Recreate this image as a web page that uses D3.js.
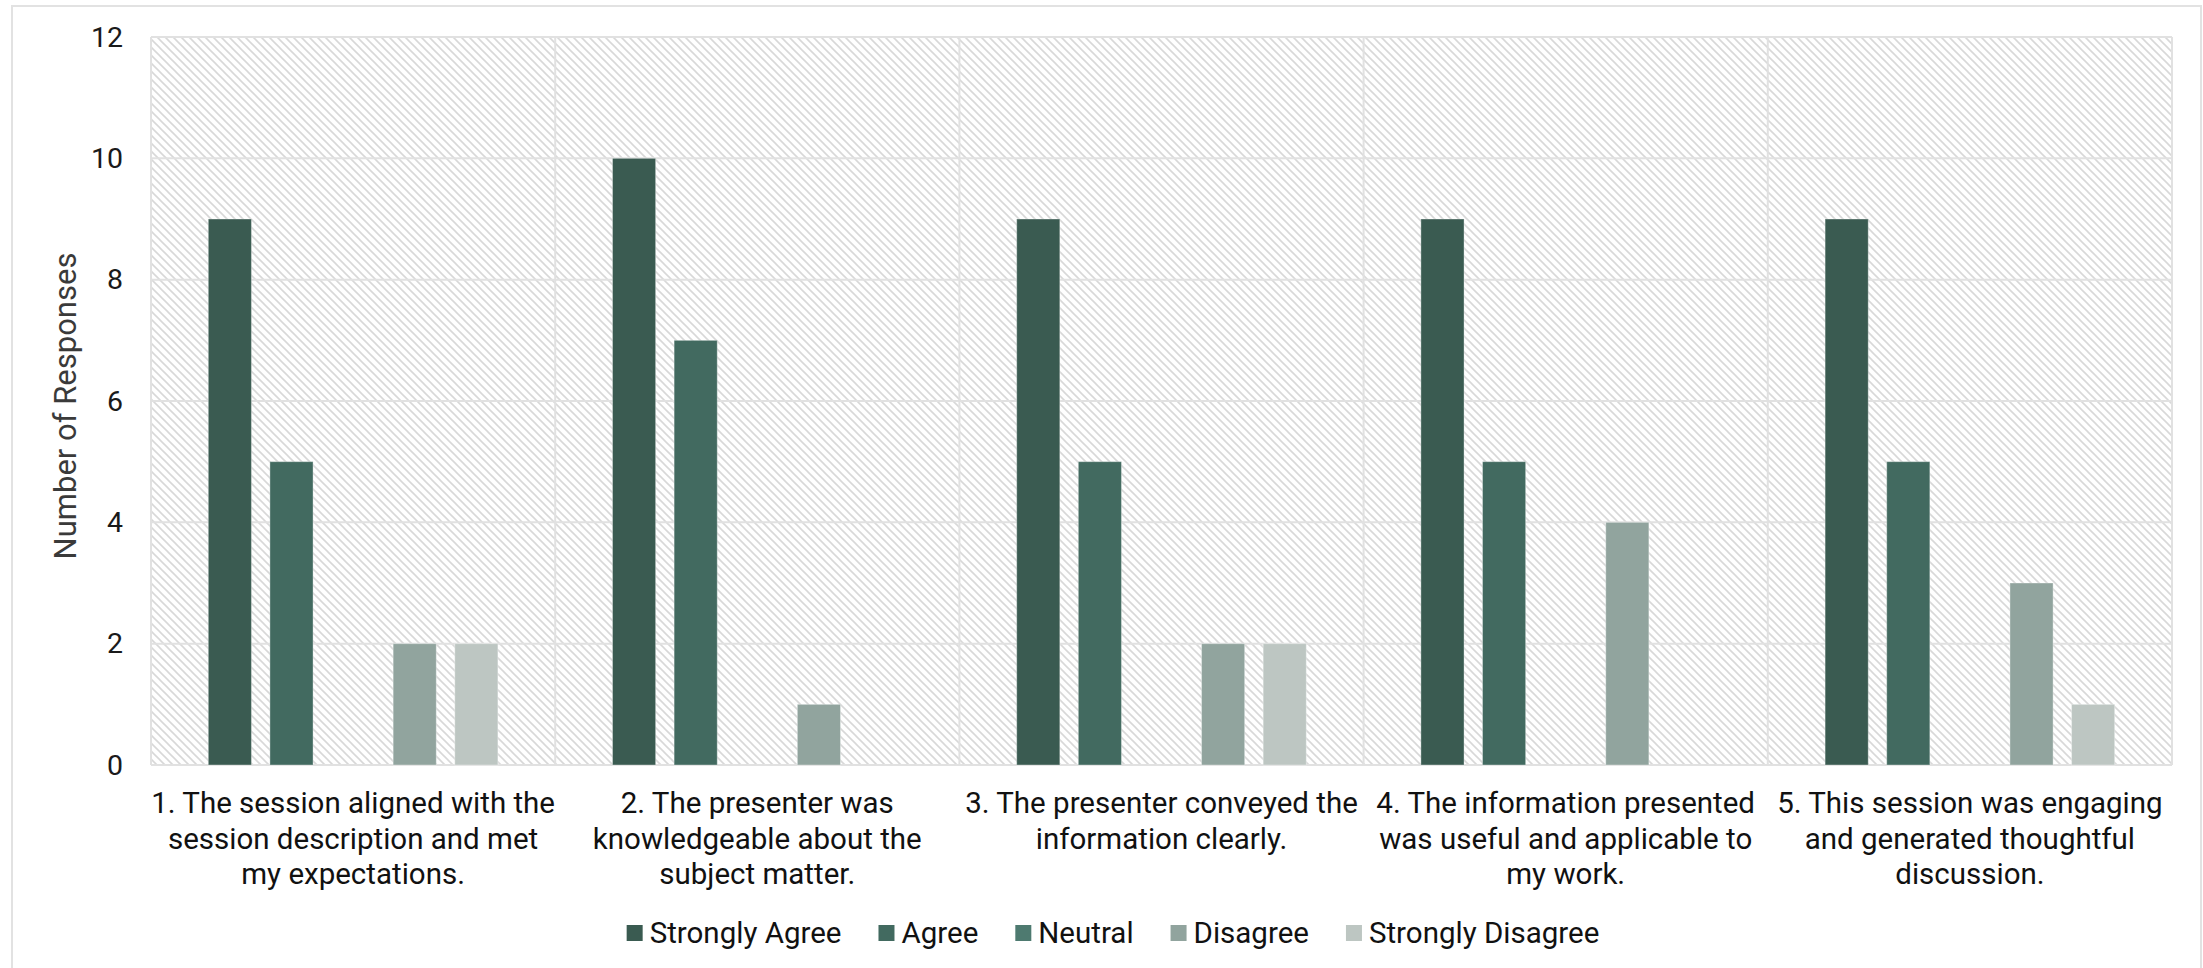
<!DOCTYPE html>
<html>
<head>
<meta charset="utf-8">
<script src="https://cdn.jsdelivr.net/npm/d3@7"></script>
<style>
  html, body { margin: 0; padding: 0; background: #ffffff; }
  svg { display: block; font-family: Roboto, "Noto Sans", sans-serif; }
</style>
</head>
<body>
<svg id="chart" width="2203" height="968"></svg>
<script>
// Survey questions (x categories); "\n" marks the label line breaks
const questions = [
  "1. The session aligned with the\nsession description and met\nmy expectations.",
  "2. The presenter was\nknowledgeable about the\nsubject matter.",
  "3. The presenter conveyed the\ninformation clearly.",
  "4. The information presented\nwas useful and applicable to\nmy work.",
  "5. This session was engaging\nand generated thoughtful\ndiscussion."
];

// Response options (series)
const responses = ["Strongly Agree", "Agree", "Neutral", "Disagree", "Strongly Disagree"];
const responseColors = ["#3a5b51", "#426a60", "#4e7a70", "#91a49e", "#bdc6c2"];

// Counts per question, one array per response option
const stronglyAgree    = [9, 10, 9, 9, 9];
const agree            = [5, 7, 5, 5, 5];
const neutral          = [0, 0, 0, 0, 0];
const disagree         = [2, 1, 2, 4, 3];
const stronglyDisagree = [2, 0, 2, 0, 1];
const seriesValues = [stronglyAgree, agree, neutral, disagree, stronglyDisagree];

const yTicks = [0, 2, 4, 6, 8, 10, 12];
const yTitle = "Number of Responses";

const svg = d3.select("#chart");
const plot = { left: 151, right: 2172, top: 37, bottom: 765 };

// Outer frame
svg.append("rect")
  .attr("x", 12).attr("y", 6)
  .attr("width", 2189).attr("height", 1000)
  .attr("fill", "#ffffff")
  .attr("stroke", "#e2e2e2").attr("stroke-width", 2);

// Diagonal hatch for the plot background
const defs = svg.append("defs");
const pat = defs.append("pattern")
  .attr("id", "hatch")
  .attr("patternUnits", "userSpaceOnUse")
  .attr("width", 8).attr("height", 8);
pat.append("rect").attr("width", 8).attr("height", 8).attr("fill", "#ffffff");
pat.append("path")
  .attr("d", "M0,0 L8,8 M-2,6 L2,10 M6,-2 L10,2")
  .attr("stroke", "#d8d8d8").attr("stroke-width", 1.6);

const x0 = d3.scaleBand()
  .domain(d3.range(questions.length))
  .range([plot.left, plot.right])
  .padding(0);

const x1 = d3.scaleBand()
  .domain(d3.range(responses.length))
  .range([0, x0.bandwidth()])
  .paddingInner(0.3)
  .paddingOuter(0.93);

const y = d3.scaleLinear()
  .domain([0, 12])
  .range([plot.bottom, plot.top]);

// Plot background
svg.append("rect")
  .attr("x", plot.left).attr("y", plot.top)
  .attr("width", plot.right - plot.left)
  .attr("height", plot.bottom - plot.top)
  .attr("fill", "url(#hatch)");

// Horizontal gridlines
svg.append("g")
  .selectAll("line")
  .data(yTicks)
  .join("line")
  .attr("x1", plot.left).attr("x2", plot.right)
  .attr("y1", d => y(d)).attr("y2", d => y(d))
  .attr("stroke", "#e1e1e1").attr("stroke-width", 2);

// Vertical separators between questions
svg.append("g")
  .selectAll("line")
  .data(d3.range(questions.length + 1))
  .join("line")
  .attr("x1", d => d < questions.length ? x0(d) : plot.right)
  .attr("x2", d => d < questions.length ? x0(d) : plot.right)
  .attr("y1", plot.top).attr("y2", plot.bottom)
  .attr("stroke", "#e1e1e1").attr("stroke-width", 2);

// Bars
const groups = svg.append("g")
  .selectAll("g")
  .data(questions.map((q, i) => i))
  .join("g")
  .attr("transform", i => `translate(${x0(i)},0)`);

groups.selectAll("rect")
  .data(i => seriesValues.map((vals, s) => ({ s, v: vals[i] })).filter(d => d.v > 0))
  .join("rect")
  .attr("x", d => x1(d.s))
  .attr("width", x1.bandwidth())
  .attr("y", d => y(d.v))
  .attr("height", d => y(0) - y(d.v))
  .attr("fill", d => responseColors[d.s])
  .attr("stroke", "#ffffff").attr("stroke-opacity", 0.35).attr("stroke-width", 1);

// Y axis labels
const yAxis = d3.axisLeft(y).tickValues(yTicks).tickSize(0).tickPadding(0);
const yG = svg.append("g")
  .attr("transform", `translate(123,0)`)
  .call(yAxis);
yG.select(".domain").remove();
yG.selectAll("text")
  .attr("font-family", "Roboto, sans-serif")
  .attr("font-size", 28.5)
  .attr("fill", "#1a1a1a");

// Y axis title
svg.append("text")
  .attr("transform", `translate(76,${(plot.top + plot.bottom) / 2 + 5}) rotate(-90)`)
  .attr("text-anchor", "middle")
  .attr("font-size", 31)
  .attr("fill", "#3a3a3a")
  .text(yTitle);

// Question labels
const xG = svg.append("g");
questions.forEach((q, i) => {
  const t = xG.append("text")
    .attr("text-anchor", "middle")
    .attr("font-size", 29.5)
    .attr("fill", "#111111");
  q.split("\n").forEach((line, k) => {
    t.append("tspan")
      .attr("x", x0(i) + x0.bandwidth() / 2)
      .attr("y", 813 + k * 35.5)
      .text(line);
  });
});

// Legend
const legend = svg.append("g");
const gap = 37;
let lx = 0;
responses.forEach((r, s) => {
  const g = legend.append("g");
  g.append("rect")
    .attr("x", 0).attr("y", -8)
    .attr("width", 16).attr("height", 16)
    .attr("fill", responseColors[s]);
  const txt = g.append("text")
    .attr("x", 23).attr("y", 0)
    .attr("dy", "0.35em")
    .attr("font-size", 29.5)
    .attr("fill", "#111111")
    .text(r);
  const w = 23 + txt.node().getComputedTextLength();
  g.attr("transform", `translate(${lx},0)`);
  lx += w + gap;
});
const legendWidth = lx - gap;
legend.attr("transform", `translate(${1113 - legendWidth / 2},933)`);
</script>
</body>
</html>
